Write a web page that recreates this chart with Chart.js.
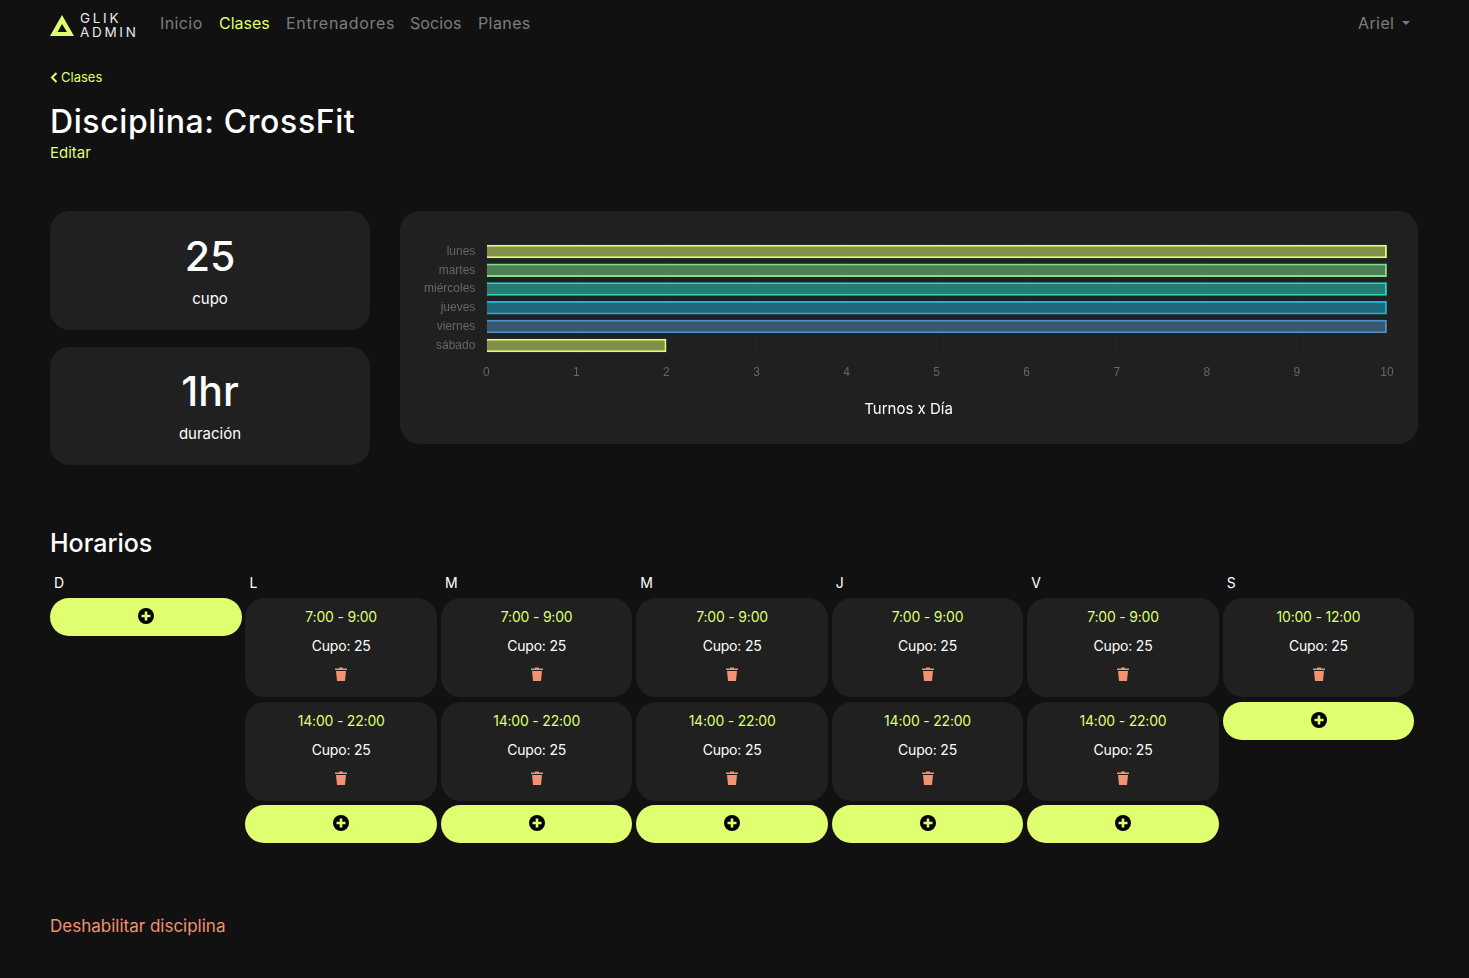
<!DOCTYPE html>
<html lang="es">
<head>
<meta charset="utf-8">
<title>Disciplina: CrossFit</title>
<script src="https://cdn.jsdelivr.net/npm/chart.js@4"></script>
<style>
  * { box-sizing: border-box; }
  html, body { margin: 0; height: 978px; overflow: hidden; background: #111111; color: #fff; font-family: Inter, "Open Sans", sans-serif; }
  .abs { position: absolute; white-space: nowrap; }
  .lime { color: #dfff70; }
  .nav { font-size: 16px; color: #7d7d7d; top: 13px; letter-spacing: .4px; }
  .card { position: absolute; background: #202020; border-radius: 20px; }
  .stat { left: 50px; width: 320px; text-align: center; }
  .stat b { display: block; font-weight: 500; font-size: 41px; line-height: 50px; }
  .stat span { display: block; font-size: 15px; line-height: 20px; }
  #chartCard { left: 400px; top: 211px; width: 1018px; height: 233px; }
  #chartBox { position: absolute; left: 16px; top: 16px; width: 988px; height: 206px; }
  .dayLabel { position: absolute; top: 574px; font-size: 14px; line-height: 18px; }
  .slot { position: absolute; width: 191.5px; height: 99px; background: #202020; border-radius: 20px; text-align: center; }
  .slot .hrs { position: absolute; top: 10px; left: 0; right: 0; font-size: 14px; line-height: 18px; color: #dfff70; letter-spacing: -.2px; }
  .slot .cupo { position: absolute; top: 39px; left: 0; right: 0; font-size: 14px; line-height: 18px; letter-spacing: -.2px; }
  .slot svg { position: absolute; top: 69px; left: 90px; }
  .add { position: absolute; width: 191.5px; height: 38px; background: #dfff70; border-radius: 19px; }
  .add svg { position: absolute; top: 10px; left: 88px; }
</style>
</head>
<body>
<svg class="abs" style="left:50px;top:15px" width="25" height="22" viewBox="0 0 25 22">
  <path fill="#dfff70" d="M12 0 L24 21 H0 Z M12 9 L7.5 17 H17 Z" fill-rule="evenodd"/>
</svg>
<div class="abs" style="left:80px;top:11px;font-size:13.5px;line-height:14px;color:#e8e8e8;letter-spacing:2.7px">GLIK<br>ADMIN</div>
<div class="abs nav" style="left:160px">Inicio</div>
<div class="abs nav lime" style="left:219px;color:#dfff70;letter-spacing:0">Clases</div>
<div class="abs nav" style="left:286px;letter-spacing:.7px">Entrenadores</div>
<div class="abs nav" style="left:410px;letter-spacing:.1px">Socios</div>
<div class="abs nav" style="left:478px">Planes</div>
<div class="abs nav" style="left:1358px">Ariel</div>
<svg class="abs" style="left:1402px;top:21px" width="8" height="4"><path fill="#7d7d7d" d="M0 0 H8 L4 4 Z"/></svg>

<svg class="abs" style="left:50px;top:72px" width="8" height="11" viewBox="0 0 8 11"><path fill="none" stroke="#dfff70" stroke-width="2" d="M6.5 1 L2 5.5 L6.5 10"/></svg>
<div class="abs lime" style="left:61px;top:69px;font-size:13px;line-height:17px">Clases</div>
<div class="abs" style="left:50px;top:102px;font-size:32px;line-height:40px;font-weight:500;letter-spacing:.6px">Disciplina: CrossFit</div>
<div class="abs lime" style="left:50px;top:143.5px;font-size:15px;line-height:18px">Editar</div>

<div class="card stat" style="top:211px;height:119px"><b style="margin-top:20px">25</b><span style="margin-top:7.5px">cupo</span></div>
<div class="card stat" style="top:347px;height:118px"><b style="margin-top:19px">1hr</b><span style="margin-top:7.5px">duración</span></div>

<div class="card" id="chartCard"><div id="chartBox"><canvas id="turnos"></canvas></div></div>

<div class="abs" style="left:50px;top:528px;font-size:25px;line-height:30px;font-weight:500">Horarios</div>
<div id="horarios"></div>
<div class="abs" style="left:50px;top:916px;font-size:17px;line-height:20px;color:#f29270">Deshabilitar disciplina</div>

<script>
const dayNames = ["lunes", "martes", "miércoles", "jueves", "viernes", "sábado"];
const turnosPorDia = [10, 10, 10, 10, 10, 2];
const xTicks = [0, 1, 2, 3, 4, 5, 6, 7, 8, 9, 10];
const borderColors = ["#dfff70", "#7ee08a", "#2dd4bf", "#22b0d6", "#4f8fc4", "#dfff70"];
const fillColors = ["rgba(223,255,112,.5)", "rgba(126,224,138,.5)", "rgba(45,212,191,.5)", "rgba(34,176,214,.5)", "rgba(79,143,196,.5)", "rgba(223,255,112,.5)"];

const dayLetters = ["D", "L", "M", "M", "J", "V", "S"];
const daySlots = [
  [],
  ["7:00 - 9:00", "14:00 - 22:00"],
  ["7:00 - 9:00", "14:00 - 22:00"],
  ["7:00 - 9:00", "14:00 - 22:00"],
  ["7:00 - 9:00", "14:00 - 22:00"],
  ["7:00 - 9:00", "14:00 - 22:00"],
  ["10:00 - 12:00"],
];
const cupo = 25;

const TRASH = '<svg width="12" height="14" viewBox="0 0 12 14"><path fill="#f29270" d="M0 1.5 H4 V0.5 H8 V1.5 H12 V3 H0 Z M1 4 H11 L10 14 H2 Z"/></svg>';
const PLUS = '<svg width="16" height="16" viewBox="0 0 16 16"><circle cx="8" cy="8" r="8" fill="#000"/><path fill="#dfff70" d="M6.7 3.5 H9.3 V6.7 H12.5 V9.3 H9.3 V12.5 H6.7 V9.3 H3.5 V6.7 H6.7 Z"/></svg>';

function renderHorarios() {
  const root = document.getElementById("horarios");
  let html = "";
  dayLetters.forEach((letter, i) => {
    const x = 50 + i * 195.45;
    html += `<div class="dayLabel" style="left:${x + 4}px">${letter}</div>`;
    let y = 598;
    daySlots[i].forEach((hrs) => {
      html += `<div class="slot" style="left:${x}px;top:${y}px"><div class="hrs">${hrs}</div><div class="cupo">Cupo: ${cupo}</div>${TRASH}</div>`;
      y += 103.5;
    });
    html += `<div class="add" style="left:${x}px;top:${y}px">${PLUS}</div>`;
  });
  root.innerHTML = html;
}

function renderChart() {
  new Chart(document.getElementById("turnos"), {
    type: "bar",
    data: {
      labels: dayNames,
      datasets: [{
        label: "Turnos",
        data: turnosPorDia,
        backgroundColor: fillColors,
        borderColor: borderColors,
        borderWidth: 2,
      }],
    },
    options: {
      indexAxis: "y",
      responsive: true,
      maintainAspectRatio: false,
      animation: false,
      layout: { padding: { left: 5, right: 8, top: 15, bottom: 0 } },
      plugins: {
        legend: { display: false },
        tooltip: { enabled: false },
        title: {
          display: true,
          position: "bottom",
          text: "Turnos x Día",
          color: "#ffffff",
          font: { family: "Inter", size: 15, weight: "400" },
          padding: { top: 10, bottom: 15 },
        },
      },
      scales: {
        x: {
          min: 0,
          max: 10,
          afterBuildTicks: (axis) => { axis.ticks = xTicks.map((value) => ({ value })); },
          grid: { color: "rgba(255,255,255,.02)", drawTicks: false },
          border: { display: false },
          ticks: { color: "#666666", padding: 10.4, maxRotation: 0, font: { family: "Liberation Sans", size: 12 } },
        },
        y: {
          grid: { display: false },
          border: { display: false },
          ticks: { color: "#666666", padding: 3, font: { family: "Liberation Sans", size: 12 } },
        },
      },
    },
  });
}

renderHorarios();
renderChart();
</script>
</body>
</html>
